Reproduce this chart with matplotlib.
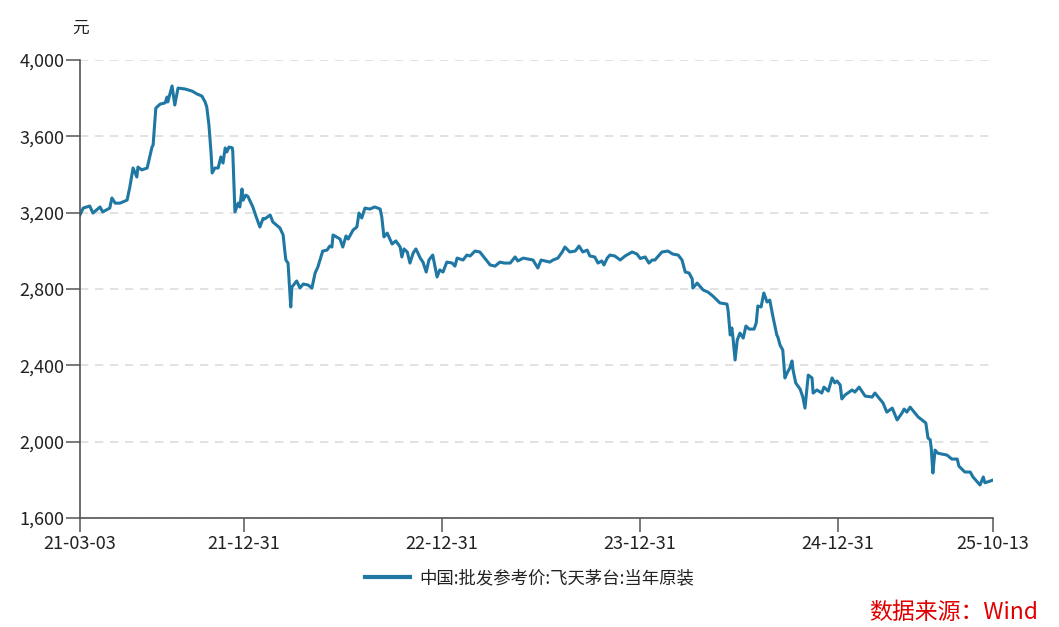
# 飞天茅台批发参考价 line chart
import matplotlib
matplotlib.use('Agg')
import matplotlib.pyplot as plt
import matplotlib.dates as mdates
import pandas as pd

plt.rcParams['font.family'] = ['Noto Sans CJK SC', 'DejaVu Sans']

# data: days after the first date, and the price (元)
start_date = '2021-03-03'
day_offsets = [
    0, 6, 18, 24, 37, 42, 55, 59, 65, 74, 87, 92, 98, 105, 107, 114, 124, 133, 135, 140,
    148, 157, 161, 162, 170, 175, 181, 194, 207, 216, 225, 231, 234, 238, 242, 244, 249, 255, 260, 264,
    268, 271, 275, 281, 282, 286, 292, 295, 299, 301, 306, 310, 319, 325, 332, 338, 341, 351, 356, 369,
    375, 378, 380, 384, 389, 391, 400, 406, 412, 421, 428, 434, 439, 448, 456, 461, 465, 467, 474, 480,
    485, 491, 495, 504, 511, 515, 520, 526, 535, 544, 554, 557, 561, 567, 576, 583, 591, 594, 598, 604,
    609, 615, 620, 628, 633, 639, 644, 651, 659, 664, 670, 677, 687, 692, 696, 707, 714, 720, 729, 738,
    747, 757, 766, 775, 783, 794, 803, 808, 818, 836, 845, 851, 867, 873, 882, 890, 895, 904, 914, 921,
    928, 936, 941, 950, 956, 963, 967, 973, 978, 987, 997, 1006, 1019, 1028, 1034, 1043, 1050, 1056, 1061, 1074,
    1085, 1094, 1104, 1111, 1117, 1124, 1130, 1131, 1139, 1150, 1159, 1168, 1181, 1194, 1196, 1200, 1203, 1205, 1209, 1213,
    1218, 1224, 1229, 1235, 1244, 1248, 1251, 1257, 1262, 1268, 1273, 1279, 1286, 1288, 1292, 1297, 1301, 1305, 1310, 1314,
    1316, 1321, 1329, 1334, 1338, 1344, 1351, 1353, 1360, 1369, 1373, 1381, 1388, 1393, 1397, 1403, 1406, 1412, 1417, 1425,
    1430, 1438, 1449, 1462, 1467, 1476, 1482, 1489, 1499, 1508, 1517, 1521, 1526, 1532, 1541, 1547, 1554, 1561, 1565, 1569,
    1571, 1572, 1574, 1578, 1583, 1591, 1600, 1609, 1619, 1622, 1633, 1643, 1648, 1656, 1661, 1667, 1670, 1676, 1685,
]
prices = [
    3188, 3224, 3235, 3198, 3230, 3204, 3224, 3277, 3250, 3250, 3266, 3334, 3434, 3387, 3439, 3424, 3434, 3544, 3554, 3748,
    3769, 3775, 3806, 3780, 3864, 3764, 3853, 3848, 3837, 3822, 3811, 3780, 3754, 3660, 3510, 3408, 3434, 3434, 3492, 3460,
    3539, 3518, 3544, 3540, 3520, 3204, 3250, 3230, 3324, 3265, 3292, 3285, 3230, 3180, 3125, 3170, 3167, 3188, 3151, 3120,
    3083, 3000, 2952, 2936, 2706, 2810, 2842, 2805, 2826, 2821, 2805, 2884, 2915, 2999, 3004, 3025, 3020, 3083, 3072, 3062,
    3020, 3078, 3062, 3109, 3125, 3198, 3172, 3224, 3219, 3230, 3219, 3177, 3073, 3093, 3036, 3052, 3020, 2968, 3010, 2994,
    2936, 2989, 3010, 2962, 2941, 2889, 2952, 2978, 2863, 2900, 2889, 2941, 2936, 2920, 2962, 2952, 2978, 2973, 2999, 2994,
    2962, 2926, 2920, 2941, 2936, 2936, 2968, 2947, 2962, 2952, 2910, 2952, 2941, 2952, 2962, 2994, 3020, 2994, 2999, 3025,
    2994, 3004, 2973, 2968, 2936, 2947, 2926, 2962, 2978, 2973, 2952, 2973, 2994, 2983, 2960, 2968, 2936, 2952, 2952, 2994,
    2999, 2983, 2978, 2952, 2889, 2884, 2852, 2805, 2831, 2795, 2784, 2763, 2727, 2721, 2690, 2559, 2596, 2548, 2428, 2533,
    2569, 2543, 2606, 2590, 2590, 2622, 2711, 2706, 2779, 2732, 2742, 2653, 2559, 2548, 2506, 2480, 2334, 2360, 2386, 2423,
    2375, 2307, 2276, 2234, 2176, 2349, 2334, 2255, 2271, 2255, 2286, 2265, 2334, 2308, 2318, 2297, 2224, 2245, 2255, 2271,
    2260, 2286, 2239, 2234, 2255, 2224, 2203, 2155, 2176, 2114, 2150, 2171, 2155, 2181, 2150, 2129, 2114, 2098, 2019, 2010,
    1967, 1920, 1836, 1956, 1940, 1935, 1930, 1909, 1909, 1872, 1841, 1841, 1815, 1789, 1773, 1815, 1785, 1790, 1799,
]
tick_dates = ['2021-03-03', '2021-12-31', '2022-12-31', '2023-12-31', '2024-12-31', '2025-10-13']
y_ticks = [1600, 2000, 2400, 2800, 3200, 3600, 4000]
series_name = '中国:批发参考价:飞天茅台:当年原装'

dates = pd.Timestamp(start_date) + pd.to_timedelta(day_offsets, unit='D')
ticks = pd.to_datetime(tick_dates)

line_color = '#1f77a4'
axis_color = '#555555'
text_color = '#222222'

fig = plt.figure(figsize=(10.59, 6.27), dpi=100)
ax = fig.add_axes([0.0755, 0.1738, 0.8622, 0.7305])

ax.plot(dates, prices, color=line_color, linewidth=2.2, solid_joinstyle='round')

ax.set_xlim(ticks[0], ticks[-1])
ax.set_ylim(1600, 4000)
ax.set_xticks(ticks)
ax.xaxis.set_major_formatter(mdates.DateFormatter('%y-%m-%d'))
ax.set_yticks(y_ticks)
ax.set_yticklabels([f'{v:,}' for v in y_ticks])

ax.grid(axis='y', color='#dddddd', linestyle=(0, (5, 4)), linewidth=1.2)
ax.set_axisbelow(True)
for s in ['top', 'right']:
    ax.spines[s].set_visible(False)
for s in ['left', 'bottom']:
    ax.spines[s].set_color(axis_color)
    ax.spines[s].set_linewidth(1.2)
ax.tick_params(axis='x', colors=axis_color, labelcolor=text_color, labelsize=13,
               length=10, width=1.1, pad=2)
ax.tick_params(axis='y', colors=axis_color, labelcolor=text_color, labelsize=13,
               length=10, width=1.1, pad=1)

fig.text(0.068, 0.955, '元', fontsize=12, color=text_color, va='center', ha='left')

fig.legend([plt.Line2D([], [], color=line_color, linewidth=3)], [series_name],
           loc='center', bbox_to_anchor=(0.5, 0.078), frameon=False, fontsize=12.5,
           handlelength=2.6, handletextpad=0.5, labelcolor=text_color)

fig.text(0.98, 0.012, '数据来源：Wind', fontsize=16.5, color='#e00000', ha='right', va='baseline')

fig.savefig('out.png', dpi=100)
